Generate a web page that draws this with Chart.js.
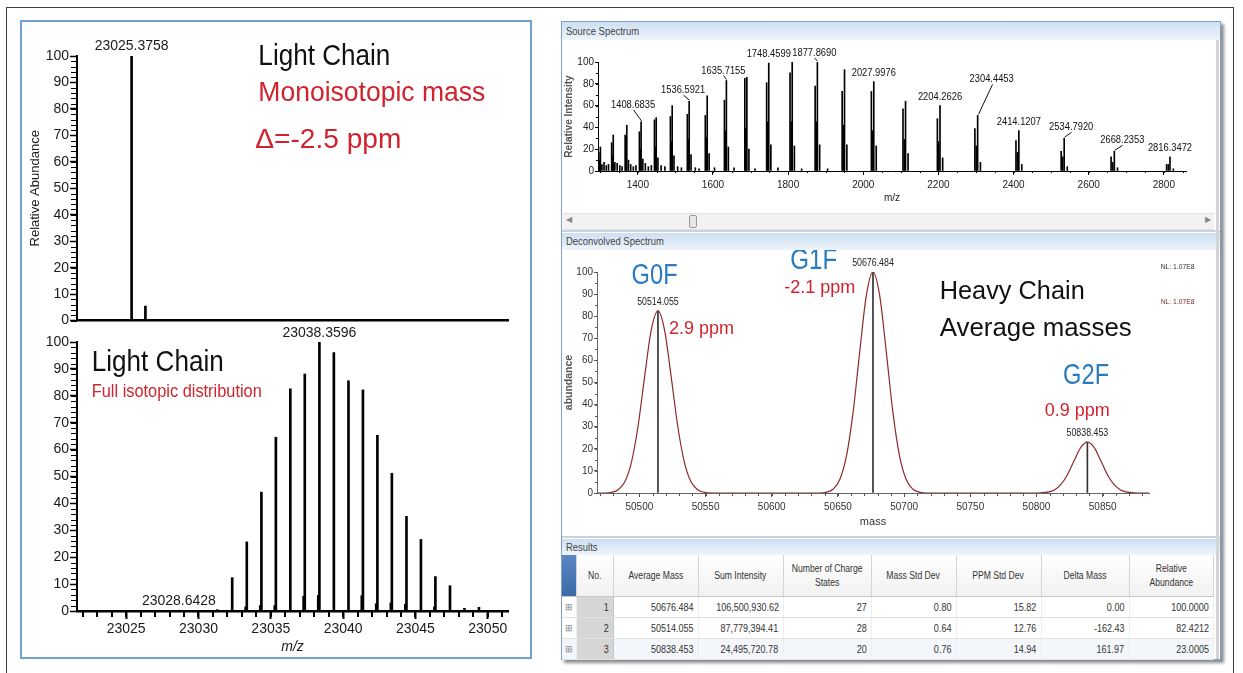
<!DOCTYPE html>
<html>
<head>
<meta charset="utf-8">
<script src="https://cdn.jsdelivr.net/npm/chart.js@4.4.1/dist/chart.umd.min.js"></script>
<style>
  body { margin: 0; width: 1243px; height: 673px; background: #fff; position: relative; overflow: hidden;
         font-family: "Liberation Sans", Arial, sans-serif; }
  .abs { position: absolute; }
  #frame { left: 6px; top: 7px; width: 1226px; height: 720px; border: 1px solid #3c3c3c; }
  #leftPanel { left: 20px; top: 20px; width: 508px; height: 635px; border: 2px solid #72a1d6; }
  #rightPanel { left: 561px; top: 21px; width: 658px; height: 637px; border: 1px solid #7f9fc6;
                box-shadow: 3px 3px 3px rgba(0,0,0,0.45); background: #fff; }
  .sq { display: inline-block; white-space: nowrap; transform: scaleX(0.86); }
  .bar { position: absolute; left: 0; right: 0; background: linear-gradient(#cddff2, #eef4fb);
         color: #444; font-size: 11px; padding-left: 4px; box-sizing: border-box; }
  .bar .sq { transform-origin: left center; }
  .divider { position: absolute; left: 0; right: 0; height: 2px; background: #c9d3de; }
  #scroll { position: absolute; left: 1px; right: 6px; top: 191px; height: 15px; background: #f2f2f2;
            border-top: 1px solid #e2e2e2; border-bottom: 1px solid #e2e2e2; }
  #scroll .arr { position: absolute; top: 1px; font-size: 8px; color: #888; }
  #thumb { position: absolute; left: 126px; top: 1px; width: 6px; height: 11px; background: #e8e8e8;
           border: 1px solid #9a9a9a; border-radius: 2px; }
  #rstrip { position: absolute; left: 654px; top: 18px; width: 3px; bottom: 0; background: #d4d4d4; }
  table { position: absolute; left: 0; top: 533px; border-collapse: collapse; table-layout: fixed;
          font-size: 10.5px; color: #333; }
  th { font-weight: normal; font-size: 10px; height: 41px; padding: 0; border-right: 1px solid #d5d5d5;
       border-bottom: 1px solid #c8c8c8; background: linear-gradient(#ffffff, #f1f1f1); line-height: 14px; }
  th .sq { transform-origin: center center; }
  th.exp { background: linear-gradient(#5b88c4, #3b6aa8); }
  td { height: 20px; padding: 0 4px; text-align: right; border-bottom: 1px solid #e2e2e2; border-right: 1px solid #eeeeee; }
  td .sq { transform-origin: right center; }
  td.exp { text-align: center; color: #888; font-size: 9px; padding: 0; }
  td.no { background: #d6d6d6; border-right: 1px solid #c4c4c4; }
  tr.sel td { background: #f3f7fc; }
  tr.sel td.no { background: #d6d6d6; }
</style>
</head>
<body>
<div id="frame" class="abs"></div>
<div id="leftPanel" class="abs"></div>

<div id="rightPanel" class="abs">
  <div class="bar" style="top:0;height:18px;line-height:18px"><span class="sq">Source Spectrum</span></div>
  <div id="scroll"><span class="arr" style="left:3px">&#9664;</span><div id="thumb"></div><span class="arr" style="right:3px">&#9654;</span></div>
  <div class="divider" style="top:208px"></div>
  <div class="bar" style="top:211px;height:17px;line-height:17px"><span class="sq">Deconvolved Spectrum</span></div>
  <div class="divider" style="top:514px"></div>
  <div class="bar" style="top:517px;height:16px;line-height:16px"><span class="sq">Results</span></div>
  <div id="rstrip"></div>
  <table id="results"></table>
</div>

<canvas id="mono" class="abs" width="500" height="290" style="left:22px;top:40px"></canvas>
<canvas id="iso" class="abs" width="500" height="330" style="left:22px;top:326px"></canvas>
<canvas id="source" class="abs" width="658" height="172" style="left:562px;top:40px"></canvas>
<canvas id="deconv" class="abs" width="658" height="285" style="left:562px;top:250px"></canvas>

<script>
// ---- light chain, monoisotopic (top left)
const monoMz = [23025.3758, 23026.33];
const monoAbund = [100, 5.5];

// ---- light chain, isotopic distribution (bottom left)
const isoMz = [23032.33, 23033.34, 23034.35, 23035.35, 23036.35, 23037.35, 23038.3596, 23039.36, 23040.37,
               23041.37, 23042.37, 23043.37, 23044.38, 23045.38, 23046.38, 23047.39, 23048.39, 23049.39];
const isoAbund = [12.4, 25.7, 44.2, 64.6, 82.6, 88.1, 100, 96.1, 85.6, 82.2, 65.3, 51.2, 35.2, 26.6, 12.8, 9.4, 1.0, 1.4];
const isoMinorMz = [23028.6428, 23031.30, 23033.26, 23034.27, 23035.27, 23037.27, 23038.28, 23041.29,
                    23042.29, 23043.30, 23044.30, 23046.31];
const isoMinorAbund = [0.3, 0.5, 1.5, 2.0, 2.0, 5.5, 5.8, 5.7, 2.7, 3.0, 2.5, 1.5];
const isoLabelMz = [23038.3596, 23028.6428];
const monoLabelMz = [23025.3758];

// ---- heavy chain source spectrum (charge state envelope)
const srcMz = [
  1296.24, 1298.3, 1300.40, 1304.55, 1310, 1316, 1322,
  1330.33, 1332.5, 1334.60, 1338.86, 1345, 1352, 1358,
  1366.25, 1368.4, 1370.64, 1375.02, 1381, 1388, 1395,
  1404.18, 1406.4, 1408.6835, 1413.19, 1420, 1428, 1436,
  1444.27, 1446.6, 1448.91, 1453.54, 1462, 1472,
  1486.71, 1489.1, 1491.49, 1496.25, 1506, 1516,
  1531.74, 1534.2, 1536.5921, 1541.57, 1553, 1563,
  1579.57, 1582.1, 1584.65, 1589.71, 1604,
  1630.49, 1633.1, 1635.7155, 1640.95, 1656,
  1684.81, 1687.5, 1690.22, 1695.62, 1712,
  1742.87, 1745.7, 1748.4599, 1754.06, 1773,
  1805.08, 1808.0, 1810.88, 1816.66, 1836,
  1871.89, 1874.9, 1877.8690, 1883.91, 1905,
  1943.85, 1947.0, 1950.10, 1956.33,
  2021.57, 2024.8, 2027.9976, 2034.55,
  2105.76, 2109.1, 2112.53, 2119.28,
  2197.27, 2200.8, 2204.2626, 2211.37,
  2297.10, 2300.8, 2304.4453, 2311.84,
  2406.44, 2410.3, 2414.1207, 2421.88,
  2526.71, 2530.8, 2534.7920, 2542.93,
  2659.64, 2663.9, 2668.2353, 2676.71,
  2807.35, 2811.9, 2816.3472, 2825.37
];
const srcInt = [
  17, 10, 22, 6, 8, 5, 6,
  26, 14, 33, 8, 7, 5, 4,
  33, 18, 42, 10, 6, 4, 5,
  36, 20, 45, 11, 7, 4, 5,
  47, 22, 49, 12, 5, 4,
  50, 27, 60, 14, 4, 3,
  52, 29, 64, 15, 3, 2,
  51, 31, 69, 16, 3,
  65, 37, 83, 22, 3,
  85, 39, 86, 20, 2,
  81, 45, 99, 24, 3,
  90, 45, 100, 23, 2,
  78, 45, 100, 24, 2,
  73, 42, 93, 24,
  73, 37, 82, 23,
  57, 29, 64, 16,
  48, 27, 60, 12,
  39, 23, 51, 8,
  28, 17, 37, 6,
  18, 13, 30, 4,
  13, 8, 18, 3,
  6, 6, 13, 2
];
const srcLabelMz = [1408.6835, 1536.5921, 1635.7155, 1748.4599, 1877.8690, 2027.9976,
                    2204.2626, 2304.4453, 2414.1207, 2534.7920, 2668.2353, 2816.3472];
const srcTickMz = [1400, 1600, 1800, 2000, 2200, 2400, 2600, 2800];

// ---- deconvolved heavy chain profile (G0F, G1F, G2F)
const decoMass = [50468, 50474,
  50479, 50484, 50489, 50494, 50499, 50504, 50509, 50514.055, 50519, 50524, 50529, 50534, 50539, 50544, 50549,
  50556, 50636,
  50641.5, 50646.5, 50651.5, 50656.5, 50661.5, 50666.5, 50671.5, 50676.484, 50681.5, 50686.5, 50691.5, 50696.5, 50701.5, 50706.5, 50711.5,
  50718, 50798,
  50803.5, 50808.5, 50813.5, 50818.5, 50823.5, 50828.5, 50833.5, 50838.453, 50843.5, 50848.5, 50853.5, 50858.5, 50863.5, 50868.5, 50873.5,
  50879, 50885];
const decoAbund = [0, 0,
  0.3, 1.5, 5.1, 13.9, 30.2, 52.8, 73.8, 82.4, 73.8, 52.8, 30.2, 13.9, 5.1, 1.5, 0.3,
  0, 0,
  0.4, 1.8, 6.2, 16.9, 36.7, 64.1, 89.5, 100, 89.5, 64.1, 36.7, 16.9, 6.2, 1.8, 0.4,
  0, 0,
  0.1, 0.4, 1.4, 3.9, 8.4, 14.7, 20.6, 23.0, 20.6, 14.7, 8.4, 3.9, 1.4, 0.4, 0.1,
  0, 0];
const peakMass = [50514.055, 50676.484, 50838.453];
const peakAbund = [82.4212, 100, 23.0005];

// ---- results table
const resNo = [1, 2, 3];
const resAvgMass = ['50676.484', '50514.055', '50838.453'];
const resSumInt = ['106,500,930.62', '87,779,394.41', '24,495,720.78'];
const resCharge = ['27', '28', '20'];
const resMassSd = ['0.80', '0.64', '0.76'];
const resPpmSd = ['15.82', '12.76', '14.94'];
const resDelta = ['0.00', '-162.43', '161.97'];
const resRel = ['100.0000', '82.4212', '23.0005'];

const SANS = '"Liberation Sans", Arial, sans-serif';
const RED = '#d1232d';
const BLUE = '#2a7bc0';
Chart.defaults.font.family = SANS;

const pts = (xs, ys) => xs.map((x, i) => ({ x: x, y: ys[i] }));
const plain = v => String(v);

// short ticks between the labelled ones
const minorTicks = {
  id: 'minorTicks',
  afterDraw(chart, args, opts) {
    const ctx = chart.ctx;
    (opts.axes || []).forEach(a => {
      const sc = chart.scales[a.id];
      ctx.save();
      ctx.strokeStyle = a.color;
      ctx.lineWidth = a.width;
      ctx.beginPath();
      const first = Math.ceil(sc.min / a.step - 1e-9);
      const last = Math.floor(sc.max / a.step + 1e-9);
      for (let k = first; k <= last; k++) {
        const p = Math.round(sc.getPixelForValue(k * a.step)) + (a.width % 2 ? 0.5 : 0);
        if (sc.isHorizontal()) { ctx.moveTo(p, sc.top); ctx.lineTo(p, sc.top + a.len); }
        else { ctx.moveTo(sc.right, p); ctx.lineTo(sc.right - a.len, p); }
      }
      ctx.stroke();
      ctx.restore();
    });
  }
};

// free text placed in data coordinates
const notes = {
  id: 'notes',
  afterDatasetsDraw(chart, args, opts) {
    const { ctx, scales } = chart;
    (opts.items || []).forEach(n => {
      const px = scales.x.getPixelForValue(n.x), py = scales.y.getPixelForValue(n.y);
      ctx.save();
      ctx.font = n.size + 'px ' + SANS;
      ctx.fillStyle = n.color;
      ctx.textBaseline = 'middle';
      ctx.textAlign = n.align || 'left';
      const sx = n.w ? n.w / ctx.measureText(n.text).width : 1;
      ctx.translate(px, py);
      ctx.scale(sx, 1);
      ctx.fillText(n.text, 0, 0);
      ctx.restore();
    });
  }
};

// m/z labels above selected sticks
const peakLabels = {
  id: 'peakLabels',
  afterDatasetsDraw(chart, args, o) {
    if (!o.values) return;
    const { ctx, scales: { x, y } } = chart;
    const all = chart.data.datasets.flatMap(d => d.data);
    ctx.save();
    ctx.font = o.size + 'px ' + SANS;
    ctx.fillStyle = o.color;
    ctx.strokeStyle = o.color;
    ctx.lineWidth = 1;
    ctx.textAlign = 'center';
    ctx.textBaseline = 'middle';
    o.values.forEach(v => {
      const pt = all.find(p => p.x === v);
      const px = x.getPixelForValue(v), py = y.getPixelForValue(pt.y);
      const adj = (o.adjust || {})[v.toFixed(o.digits)] || {};
      const lx = px + (adj.dx || 0), ly = py - o.gap - (adj.lift || 0);
      if (adj.dx || adj.lift) {
        ctx.beginPath();
        ctx.moveTo(Math.round(px) + 0.5, py - 1);
        ctx.lineTo(Math.round(lx) + 0.5, ly + 5);
        ctx.stroke();
      }
      ctx.save();
      ctx.translate(lx, ly);
      ctx.scale(o.sx || 1, 1);
      ctx.fillText(v.toFixed(o.digits), 0, 0);
      ctx.restore();
    });
    ctx.restore();
  }
};

const base = (pad) => ({
  responsive: false,
  animation: false,
  layout: { padding: pad },
  plugins: { legend: { display: false }, tooltip: { enabled: false } }
});

// ---------- top left: monoisotopic
const monoOpts = base({ top: 16, right: 14, left: 0, bottom: 0 });
Object.assign(monoOpts.plugins, {
  minorTicks: { axes: [{ id: 'y', step: 2, len: 6, width: 1, color: '#000' }] },
  peakLabels: { values: monoLabelMz, digits: 4, size: 14, gap: 10, color: '#1a1a1a' },
  notes: { items: [
    { text: 'Light Chain', x: 23034.14, y: 99.5, size: 29, w: 132, color: '#111' },
    { text: 'Monoisotopic mass', x: 23034.14, y: 85.8, size: 28, w: 227, color: RED },
    { text: '\u0394=-2.5 ppm', x: 23033.93, y: 68.0, size: 28, w: 146, color: RED }
  ] }
});
monoOpts.scales = {
  x: { type: 'linear', min: 23021.6, max: 23051.4, offset: false,
       ticks: { display: false }, grid: { display: false, offset: false },
       border: { color: '#000', width: 2.5 }, afterFit: s => { s.height = 6; } },
  y: { min: 0, max: 100,
       ticks: { stepSize: 10, autoSkip: false, font: { size: 14 }, color: '#1a1a1a', padding: 1, callback: plain },
       grid: { drawOnChartArea: false, tickLength: 7, color: '#000', tickWidth: 1.5 },
       border: { color: '#000', width: 2 },
       title: { display: true, text: 'Relative Abundance', font: { size: 13 }, color: '#1a1a1a', padding: { top: 6 } },
       afterFit: s => { s.width = 55; } }
};
new Chart(document.getElementById('mono'), {
  type: 'bar',
  data: { datasets: [{ data: pts(monoMz, monoAbund), backgroundColor: '#000', barThickness: 2, grouped: false }] },
  options: monoOpts,
  plugins: [minorTicks, notes, peakLabels]
});

// ---------- bottom left: isotopic distribution
const isoOpts = base({ top: 16, right: 14, left: 0, bottom: 0 });
Object.assign(isoOpts.plugins, {
  minorTicks: { axes: [{ id: 'y', step: 2, len: 6, width: 1, color: '#000' },
                       { id: 'x', step: 1, len: 6, width: 2, color: '#000' }] },
  peakLabels: { values: isoLabelMz, digits: 4, size: 14, gap: 9, color: '#1a1a1a' },
  notes: { items: [
    { text: 'Light Chain', x: 23022.62, y: 92.3, size: 29, w: 132, color: '#111' },
    { text: 'Full isotopic distribution', x: 23022.62, y: 81.5, size: 18, w: 170, color: RED }
  ] }
});
isoOpts.scales = {
  x: { type: 'linear', min: 23021.6, max: 23051.4, offset: false,
       ticks: { stepSize: 5, includeBounds: false, autoSkip: false, maxRotation: 0, font: { size: 14 }, color: '#1a1a1a', padding: 2, callback: plain },
       grid: { drawOnChartArea: false, offset: false, tickLength: 8, color: '#000', tickWidth: 2 },
       border: { color: '#000', width: 2.5 },
       title: { display: true, text: 'm/z', font: { size: 14, style: 'italic' }, color: '#1a1a1a', padding: { bottom: 0 } },
       afterFit: s => { s.height = 45; } },
  y: { min: 0, max: 100,
       ticks: { stepSize: 10, autoSkip: false, font: { size: 14 }, color: '#1a1a1a', padding: 1, callback: plain },
       grid: { drawOnChartArea: false, tickLength: 7, color: '#000', tickWidth: 1.5 },
       border: { color: '#000', width: 2 },
       afterFit: s => { s.width = 55; } }
};
new Chart(document.getElementById('iso'), {
  type: 'bar',
  data: { datasets: [
    { data: pts(isoMz, isoAbund), backgroundColor: '#000', barThickness: 2, grouped: false },
    { data: pts(isoMinorMz, isoMinorAbund), backgroundColor: '#000', barThickness: 2, grouped: false }
  ] },
  options: isoOpts,
  plugins: [minorTicks, notes, peakLabels]
});

// ---------- source spectrum
const srcOpts = base({ top: 22, right: 34, left: 0, bottom: 0 });
Object.assign(srcOpts.plugins, {
  minorTicks: { axes: [{ id: 'y', step: 10, len: 2, width: 1, color: '#000' },
                       { id: 'x', step: 50, len: 2, width: 1, color: '#000' }] },
  peakLabels: { values: srcLabelMz, digits: 4, size: 11, sx: 0.85, gap: 9, color: '#111',
                adjust: { '1408.6835': { dx: -8, lift: 8 }, '1536.5921': { dx: -6, lift: 2 },
                          '1635.7155': { dx: -3, lift: 1 }, '1877.8690': { dx: -3, lift: 0 },
                          '2304.4453': { dx: 14, lift: 27 }, '2534.7920': { dx: 7, lift: 2 },
                          '2668.2353': { dx: 8, lift: 2 } } }
});
srcOpts.scales = {
  x: { type: 'linear', min: 1294, max: 2859, offset: false,
       afterBuildTicks: s => { s.ticks = srcTickMz.map(v => ({ value: v })); },
       ticks: { autoSkip: false, maxRotation: 0, font: { size: 10 }, color: '#222', padding: 4, callback: plain },
       grid: { drawOnChartArea: false, offset: false, tickLength: 4, color: '#000' },
       border: { color: '#000', width: 1 },
       title: { display: true, text: 'm/z', font: { size: 10 }, color: '#222', padding: { bottom: 8 } },
       afterFit: s => { s.height = 41; } },
  y: { min: 0, max: 100,
       ticks: { stepSize: 20, autoSkip: false, font: { size: 10 }, color: '#222', padding: 1, callback: plain },
       grid: { drawOnChartArea: false, tickLength: 3, color: '#000' },
       border: { color: '#000', width: 1 },
       title: { display: true, text: 'Relative Intensity', font: { size: 10, weight: 'bold' }, color: '#555', padding: { top: 1 } },
       afterFit: s => { s.width = 36; } }
};
new Chart(document.getElementById('source'), {
  type: 'bar',
  data: { datasets: [{ data: pts(srcMz, srcInt), backgroundColor: '#000', barThickness: 1, grouped: false }] },
  options: srcOpts,
  plugins: [minorTicks, peakLabels]
});

// ---------- deconvolved spectrum
const decoOpts = base({ top: 22, right: 71, left: 0, bottom: 0 });
Object.assign(decoOpts.plugins, {
  minorTicks: { axes: [{ id: 'y', step: 5, len: 2, width: 1, color: '#555' },
                       { id: 'x', step: 10, len: 3, width: 1, color: '#555' }] },
  peakLabels: { values: peakMass, digits: 3, size: 11, sx: 0.8, gap: 9, color: '#222' },
  notes: { items: [
    { text: 'G0F', x: 50511.5, y: 98.2, size: 29, w: 46, align: 'center', color: BLUE },
    { text: '2.9 ppm', x: 50522.4, y: 74.5, size: 19, w: 65, color: RED },
    { text: 'G1F', x: 50631.7, y: 105, size: 29, w: 47, align: 'center', color: BLUE },
    { text: '-2.1 ppm', x: 50636.2, y: 92.9, size: 19, w: 71, align: 'center', color: RED },
    { text: 'Heavy Chain', x: 50726.9, y: 91.1, size: 26, w: 145, color: '#111' },
    { text: 'Average masses', x: 50726.9, y: 74.3, size: 26, w: 192, color: '#111' },
    { text: 'G2F', x: 50837.5, y: 52.9, size: 29, w: 46, align: 'center', color: BLUE },
    { text: '0.9 ppm', x: 50830.8, y: 37, size: 19, w: 65, align: 'center', color: RED },
    { text: 'NL: 1.07E8', x: 50893.8, y: 102.4, size: 8, w: 34, color: '#333' },
    { text: 'NL: 1.07E8', x: 50893.8, y: 86.6, size: 8, w: 34, color: '#7a2a2a' }
  ] }
});
decoOpts.scales = {
  x: { type: 'linear', min: 50468, max: 50885, offset: false,
       ticks: { stepSize: 50, includeBounds: false, autoSkip: false, maxRotation: 0, font: { size: 10 }, color: '#333', padding: 4, callback: plain },
       grid: { drawOnChartArea: false, offset: false, tickLength: 4, color: '#555' },
       border: { color: '#666', width: 1 },
       title: { display: true, text: 'mass', font: { size: 11 }, color: '#333', padding: { bottom: 6 } },
       afterFit: s => { s.height = 42; } },
  y: { min: 0, max: 100,
       ticks: { stepSize: 10, autoSkip: false, font: { size: 10 }, color: '#333', padding: 1, callback: plain },
       grid: { drawOnChartArea: false, tickLength: 3, color: '#555' },
       border: { color: '#666', width: 1 },
       title: { display: true, text: 'abundance', font: { size: 10.5, weight: 'bold' }, color: '#555', padding: { top: 1 } },
       afterFit: s => { s.width = 35; } }
};
new Chart(document.getElementById('deconv'), {
  type: 'line',
  data: { datasets: [
    { type: 'line', data: pts(decoMass, decoAbund), borderColor: '#8e2a2a', borderWidth: 1.2,
      pointRadius: 0, cubicInterpolationMode: 'monotone', fill: false },
    { type: 'bar', data: pts(peakMass, peakAbund), backgroundColor: '#333', barThickness: 1, grouped: false }
  ] },
  options: decoOpts,
  plugins: [minorTicks, notes, peakLabels]
});

// ---------- results table
const heads = ['', 'No.', 'Average Mass', 'Sum Intensity', 'Number of Charge<br>States', 'Mass Std Dev',
               'PPM Std Dev', 'Delta Mass', 'Relative<br>Abundance'];
const widths = [14, 37, 85, 85, 88, 85, 85, 88, 84];
const sq = t => '<span class="sq">' + t + '</span>';
const table = document.getElementById('results');
let html = '<colgroup>' + widths.map(w => '<col style="width:' + w + 'px">').join('') + '</colgroup>';
html += '<tr>' + heads.map((h, i) => '<th' + (i === 0 ? ' class="exp"' : '') + '>' + (h ? sq(h) : '') + '</th>').join('') + '</tr>';
resNo.forEach((n, i) => {
  const cells = [resAvgMass[i], resSumInt[i], resCharge[i], resMassSd[i], resPpmSd[i], resDelta[i], resRel[i]];
  html += '<tr' + (i === 2 ? ' class="sel"' : '') + '><td class="exp">&#8862;</td><td class="no">' + sq(n) + '</td>' +
    cells.map(c => '<td>' + sq(c) + '</td>').join('') + '</tr>';
});
table.innerHTML = html;
</script>
</body>
</html>
